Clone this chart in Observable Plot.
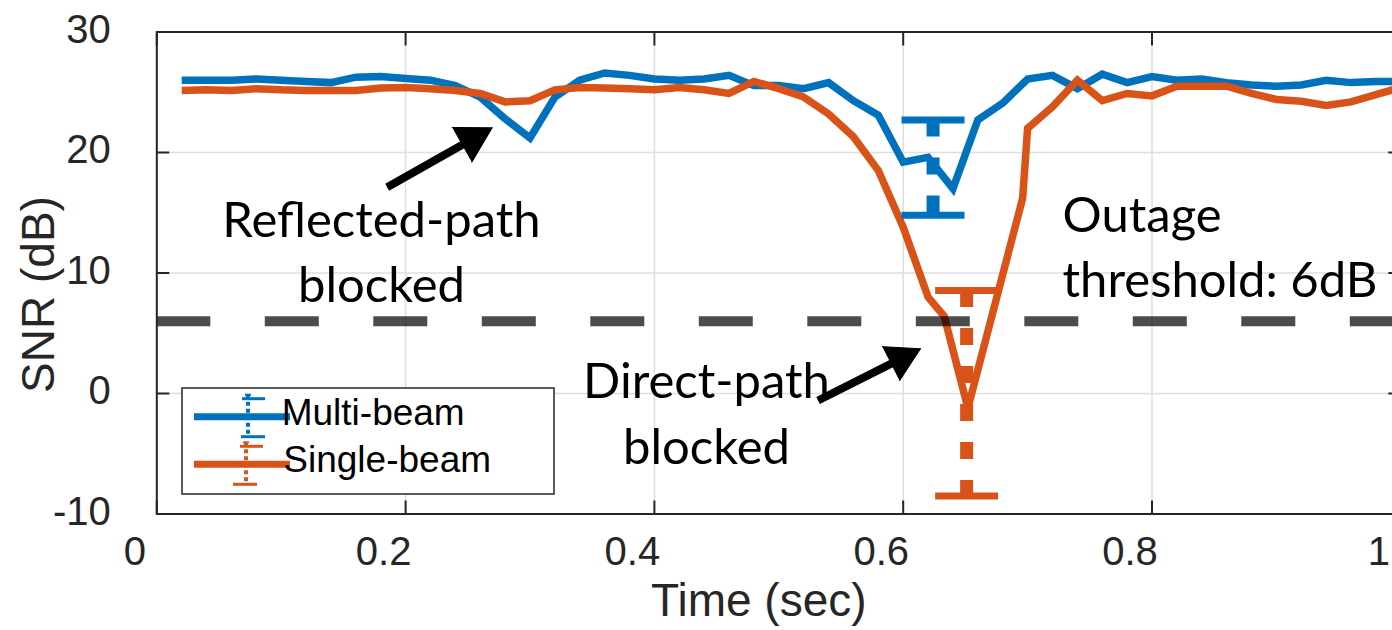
<!DOCTYPE html>
<html>
<head>
<meta charset="utf-8">
<script src="https://cdn.jsdelivr.net/npm/d3@7"></script>
<script src="https://cdn.jsdelivr.net/npm/@observablehq/plot@0.6"></script>
<style>
  body { margin: 0; background: #fff; }
  #wrap { position: relative; width: 1392px; height: 630px; overflow: hidden; background: #fff; }
  #overlay { position: absolute; left: 0; top: 0; pointer-events: none; }
</style>
</head>
<body>
<div id="wrap"></div>
<script>
// ---------------- data ----------------
const seriesNames = ["Multi-beam", "Single-beam"];
const seriesColors = ["#0072BD", "#D95319"];

const multiTime = [0.02,0.04,0.06,0.08,0.10,0.12,0.14,0.16,0.18,0.20,
                   0.22,0.24,0.26,0.28,0.30,0.32,0.34,0.36,0.38,0.40,
                   0.42,0.44,0.46,0.48,0.50,0.52,0.54,0.56,0.58,0.60,
                   0.62,0.64,0.66,0.68,0.70,0.72,0.74,0.76,0.78,0.80,
                   0.82,0.84,0.86,0.88,0.90,0.92,0.94,0.96,0.98,1.00];
const multiSNR = [26.0,26.0,26.0,26.1,26.0,25.9,25.8,26.25,26.3,26.15,
                  26.0,25.55,24.6,22.8,21.2,24.6,26.0,26.6,26.4,26.1,
                  26.0,26.1,26.4,25.55,25.55,25.3,25.8,24.3,23.1,19.2,
                  19.6,17.0,22.7,24.1,26.1,26.4,25.3,26.5,25.8,26.3,
                  26.0,26.1,25.8,25.6,25.5,25.6,26.0,25.8,25.9,25.9];

const singleTime = [0.02,0.04,0.06,0.08,0.10,0.12,0.14,0.16,0.18,0.20,
                    0.22,0.24,0.26,0.28,0.30,0.32,0.34,0.36,0.38,0.40,
                    0.42,0.44,0.46,0.48,0.50,0.52,0.54,0.56,0.58,0.60,
                    0.62,0.633,0.652,0.696,0.70,0.72,0.74,0.76,0.78,0.80,
                    0.82,0.84,0.86,0.88,0.90,0.92,0.94,0.96,0.98,1.00];
const singleSNR = [25.15,25.2,25.15,25.3,25.2,25.15,25.15,25.15,25.35,25.4,
                   25.3,25.15,24.9,24.2,24.3,25.2,25.4,25.35,25.3,25.2,
                   25.4,25.2,24.9,25.9,25.3,24.6,23.2,21.3,18.5,13.8,
                   8.0,6.4,-1.2,16.2,22.0,23.8,26.0,24.3,24.9,24.7,
                   25.5,25.5,25.5,24.9,24.4,24.25,23.9,24.2,24.8,25.4];

// error bars
const errSeries = ["Multi-beam", "Single-beam"];
const errTime = [0.624, 0.651];
const errLow = [14.8, -8.5];
const errHigh = [22.7, 8.55];

const threshold = 6;

const xTicks = [0, 0.2, 0.4, 0.6, 0.8, 1];
const yTicks = [-10, 0, 10, 20, 30];

// annotations
const noteLabels = ["Reflected-path\nblocked", "Direct-path\nblocked", "Outage\nthreshold: 6dB"];
const noteX = [0.1806, 0.4419, 0.7281];
const noteY = [16.85, 3.43, 17.26];
const noteAnchor = ["middle", "middle", "start"];

const arrowX1 = [0.1852, 0.5316];
const arrowY1 = [17.12, -0.58];
const arrowX2 = [0.2696, 0.6139];
const arrowY2 = [22.05, 3.71];

// ---------------- tables ----------------
const lineData = [
  ...multiTime.map((t, i) => ({t, v: multiSNR[i], series: seriesNames[0]})),
  ...singleTime.map((t, i) => ({t, v: singleSNR[i], series: seriesNames[1]}))
];
const errData = errTime.map((t, i) => ({t, low: errLow[i], high: errHigh[i], series: errSeries[i]}));
const notes = noteLabels.map((label, i) => ({label, x: noteX[i], y: noteY[i], anchor: noteAnchor[i]}));
const arrows = arrowX1.map((x1, i) => ({x1, y1: arrowY1[i], x2: arrowX2[i], y2: arrowY2[i]}));

const capSymbol = {
  draw(context) { context.moveTo(-31.5, 0); context.lineTo(31.5, 0); }
};

const AX = "#262626";
const FONT = "Liberation Sans, Arial, Helvetica, sans-serif";
const NOTEFONT = "Lato, Carlito, Calibri, sans-serif";

const chart = Plot.plot({
  width: 1392,
  height: 630,
  marginLeft: 156.3,
  marginRight: -8.3,
  marginTop: 31.5,
  marginBottom: 116.5,
  style: {fontFamily: FONT, color: AX, background: "white", overflow: "hidden"},
  x: {domain: [0, 1]},
  y: {domain: [-10, 30]},
  color: {domain: seriesNames, range: seriesColors},
  marks: [
    Plot.gridX(xTicks, {stroke: "#dedede", strokeOpacity: 1, strokeWidth: 1.5}),
    Plot.gridY(yTicks, {stroke: "#dedede", strokeOpacity: 1, strokeWidth: 1.5}),
    Plot.line(lineData, {x: "t", y: "v", z: "series", stroke: "series", strokeWidth: 7.5,
      strokeLinejoin: "miter", strokeMiterlimit: 3, strokeLinecap: "butt"}),
    Plot.ruleX(errData, {x: "t", y1: "high", y2: "low", stroke: "series", strokeWidth: 13,
      strokeDasharray: "17,21"}),
    Plot.dot(errData, {x: "t", y: "high", symbol: capSymbol, r: 5, stroke: "series", fill: "none", strokeWidth: 7, strokeLinecap: "butt"}),
    Plot.dot(errData, {x: "t", y: "low", symbol: capSymbol, r: 5, stroke: "series", fill: "none", strokeWidth: 7, strokeLinecap: "butt"}),
    Plot.ruleY([threshold], {stroke: "black", strokeOpacity: 0.7, strokeWidth: 10, strokeDasharray: "54,54.5"}),
    Plot.frame({stroke: AX, strokeWidth: 2}),
    // inward ticks on all sides
    Plot.axisX(xTicks, {anchor: "bottom", tickSize: -13, fill: "none", stroke: AX, strokeWidth: 2, label: null}),
    Plot.axisX(xTicks, {anchor: "top", tickSize: -13, fill: "none", stroke: AX, strokeWidth: 2, label: null}),
    Plot.axisY(yTicks, {anchor: "left", tickSize: -13, fill: "none", stroke: AX, strokeWidth: 2, label: null}),
    Plot.axisY(yTicks, {anchor: "right", tickSize: -13, fill: "none", stroke: AX, strokeWidth: 2, label: null}),
    // tick labels
    Plot.axisX(xTicks, {anchor: "bottom", tickSize: 0, tickPadding: 23, dx: -22, fontSize: 40, fill: AX,
      tickFormat: d => String(d), label: null}),
    Plot.axisY(yTicks, {anchor: "left", tickSize: 0, tickPadding: 46, dy: -2, fontSize: 40, fill: AX,
      tickFormat: d => String(d), label: null}),
    // axis titles
    Plot.text(["Time (sec)"], {frameAnchor: "bottom", textAnchor: "middle", lineAnchor: "top", dx: -20, dy: 69.5,
      fontSize: 46, fill: AX, fontFamily: FONT}),
    Plot.text(["SNR (dB)"], {frameAnchor: "left", textAnchor: "middle", rotate: -90, lineAnchor: "middle",
      dx: -117.3, dy: 21.5, fontSize: 46, fill: AX, fontFamily: FONT}),
    // arrows
    Plot.arrow(arrows, {x1: "x1", y1: "y1", x2: "x2", y2: "y2", stroke: "black", strokeWidth: 8,
      headLength: 0, insetEnd: 20, strokeLinecap: "butt"}),
    Plot.arrow(arrows, {x1: "x1", y1: "y1", x2: "x2", y2: "y2", stroke: "black", fill: "black",
      strokeWidth: 1, headLength: 60, headAngle: 60}),
    // annotation texts
    Plot.text(notes.filter(d => d.anchor === "middle"), {x: "x", y: "y", text: "label", textAnchor: "middle",
      lineAnchor: "top", lineHeight: 1.33, fontSize: 49, fontFamily: NOTEFONT, fill: "black"}),
    Plot.text(notes.filter(d => d.anchor === "start"), {x: "x", y: "y", text: "label", textAnchor: "start",
      lineAnchor: "top", lineHeight: 1.33, fontSize: 49, fontFamily: NOTEFONT, fill: "black"})
  ]
});

const wrap = document.getElementById("wrap");
wrap.appendChild(chart);

// ---------------- legend (overlay) ----------------
const ov = d3.select(wrap).append("svg").attr("id", "overlay")
  .attr("width", 1392).attr("height", 630);
ov.append("rect").attr("x", 182).attr("y", 388).attr("width", 372).attr("height", 106)
  .attr("fill", "white").attr("stroke", AX).attr("stroke-width", 1.5);
const legendRows = seriesNames.map((name, i) => ({name, color: seriesColors[i], i}));
const rowY = [416.7, 464.3];
const barX = [248, 246];
const g = ov.selectAll("g.item").data(legendRows).join("g").attr("class", "item");
g.append("line").attr("x1", 194).attr("x2", 290).attr("y1", d => rowY[d.i]).attr("y2", d => rowY[d.i])
  .attr("stroke", d => d.color).attr("stroke-width", 7);
g.append("line").attr("x1", d => barX[d.i]).attr("x2", d => barX[d.i])
  .attr("y1", d => rowY[d.i] - 22).attr("y2", d => rowY[d.i] + 20)
  .attr("stroke", d => d.color).attr("stroke-width", 4).attr("stroke-dasharray", "4,3");
g.append("line").attr("x1", d => barX[d.i] - 6).attr("x2", d => barX[d.i] + 17)
  .attr("y1", d => rowY[d.i] - 18).attr("y2", d => rowY[d.i] - 18)
  .attr("stroke", d => d.color).attr("stroke-width", 3);
g.append("line").attr("x1", d => barX[d.i] - 7 - 6 * d.i).attr("x2", d => barX[d.i] + 17 - 6 * d.i)
  .attr("y1", d => rowY[d.i] + 20).attr("y2", d => rowY[d.i] + 20)
  .attr("stroke", d => d.color).attr("stroke-width", 3);
g.append("line").attr("x1", d => barX[d.i] - 3).attr("x2", d => barX[d.i] + 3)
  .attr("y1", d => rowY[d.i] - 22).attr("y2", d => rowY[d.i] - 22)
  .attr("stroke", d => d.color).attr("stroke-width", 2);
g.append("text").attr("x", d => 281.7 + 1.6 * d.i).attr("y", d => [425, 471.7][d.i])
  .attr("font-family", FONT).attr("font-size", 37).attr("fill", "black")
  .text(d => d.name);
</script>
</body>
</html>
